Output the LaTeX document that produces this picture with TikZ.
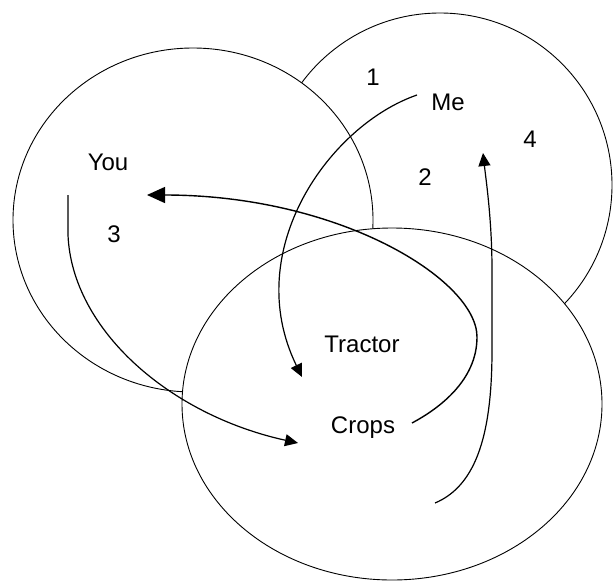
\documentclass[tikz,border=0pt]{standalone}
\usepackage{fontspec}
\setmainfont{Liberation Sans}
\usetikzlibrary{arrows.meta, shapes.geometric}

\begin{document}
\begin{tikzpicture}[
    x=1pt, y=-1pt,
    ring/.style={ellipse, draw, line width=0.9pt, fill=white, inner sep=0pt, minimum width=#1},
    word/.style={font=\fontsize{24}{27}\selectfont, anchor=base, inner sep=0pt},
    arrow/.style={-{Triangle[length=13pt, width=12pt]}, line width=1.2pt},
    bigarrow/.style={-{Triangle[length=18pt, width=16pt]}, line width=1.4pt},
]
\useasboundingbox (0,0) rectangle (613,584);

% Circles, back to front
\node[ring=344pt, minimum height=344pt] (me_ring) at (440,185) {};
\node[ring=360pt, minimum height=344pt] (you_ring) at (193,220) {};
\node[ring=420pt, minimum height=352pt] (crops_ring) at (392,404) {};

% Labels
\node[word] (you) at (108,170) {You};
\node[word] (me) at (448,110) {Me};
\node[word] (tractor) at (362,352) {Tractor};
\node[word] (crops) at (363,433) {Crops};
\node[word] (n1) at (373,85) {1};
\node[word] (n2) at (425,185) {2};
\node[word] (n3) at (114,242) {3};
\node[word] (n4) at (530,147) {4};

% Arrow ends
\coordinate (me_out) at (417,95);
\coordinate (tractor_in) at (302,377);
\coordinate (you_out) at (68,195);
\coordinate (crops_in) at (298,443);
\coordinate (crops_out) at (412,423);
\coordinate (you_in) at (147,195);
\coordinate (crops_low) at (435,503);
\coordinate (me_in) at (483,153);

% Arrows
\draw[arrow] (me_out) .. controls (330,125) and (240,250) .. (tractor_in);
\draw[arrow] (you_out) -- ++(0,40) .. controls (72,330) and (170,415) .. (crops_in);
\draw[bigarrow] (crops_out) .. controls (440,408) and (477,380) .. (477,337)
    .. controls (477,280) and (340,195) .. (you_in);
\draw[arrow] (crops_low) .. controls (478,485) and (492,430) .. (492,350) -- (492,270)
    .. controls (492,220) and (486,180) .. (me_in);

\end{tikzpicture}
\end{document}
